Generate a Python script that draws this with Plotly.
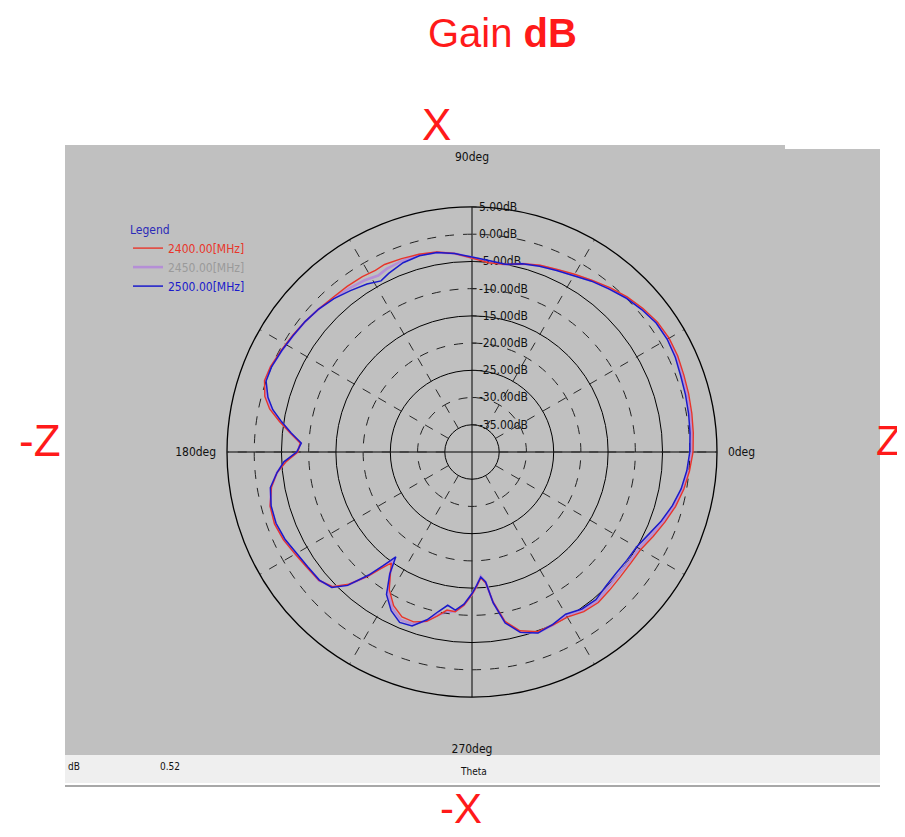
import plotly.graph_objects as go

# ---------------- data ----------------
theta = [0, 5, 10, 15, 20, 25, 30, 35, 40, 45, 50, 55, 60, 65, 70, 75, 80, 85, 90, 95,
         100, 105, 110, 115, 118, 122, 127, 132, 137, 142, 147, 152, 157, 161, 165, 168,
         171, 174, 177, 180, 183, 186, 190, 195, 200, 205, 210, 215, 220, 224, 227, 230,
         232, 234, 236, 239, 243, 247, 251, 255, 258, 261, 264, 267, 270, 272, 274, 276,
         278, 281, 285, 290, 295, 300, 305, 310, 315, 320, 325, 330, 335, 340, 345, 350,
         355, 360]

gain_2400 = [0.6, 0.8, 1.0, 1.2, 1.4, 1.7, 1.8, 1.6, 1.0, 0.3, -0.6, -1.5, -2.3, -3.0, -3.5,
             -4.2, -5.0, -5.1, -4.4, -3.4, -2.7, -2.4, -2.2, -2.0, -2.2, -2.0, -1.9, -1.8,
             -1.5, -1.1, -0.7, -0.3, 0.2, 0.3, -0.6, -2.0, -4.2, -6.4, -8.4, -8.0, -5.8,
             -4.0, -2.6, -1.6, -1.4, -1.8, -2.5, -3.0, -3.3, -4.4, -6.8, -10.2, -12.8,
             -14.8, -13.2, -10.5, -8.3, -7.1, -7.0, -7.8, -9.2, -10.6, -10.5, -11.8, -13.8,
             -15.3, -16.8, -15.8, -12.2, -8.3, -6.0, -4.9, -4.9, -5.0, -4.2, -3.9, -4.2,
             -4.4, -4.4, -4.2, -3.3, -2.3, -1.3, -0.5, 0.1, 0.6]

gain_2450 = [0.3, 0.5, 0.7, 0.9, 1.1, 1.5, 1.6, 1.4, 0.8, 0.1, -0.8, -1.6, -2.5, -3.1, -3.6,
             -4.2, -5.0, -4.9, -4.3, -3.4, -2.8, -2.5, -2.6, -2.9, -3.3, -2.8, -2.4, -2.0,
             -1.5, -1.1, -0.8, -0.4, 0.1, 0.2, -0.9, -2.3, -4.4, -6.5, -8.5, -7.9, -5.6,
             -4.0, -2.5, -1.7, -1.5, -1.9, -2.6, -3.1, -3.3, -4.3, -6.6, -10.3, -13.2,
             -15.6, -13.1, -10.0, -7.8, -6.5, -6.6, -7.9, -9.4, -10.2, -10.6, -11.9, -13.9,
             -15.4, -17.1, -15.9, -12.1, -8.1, -5.8, -4.7, -4.9, -5.3, -4.5, -4.2, -4.7,
             -4.9, -4.8, -4.6, -3.7, -2.6, -1.6, -0.7, -0.1, 0.3]

gain_2500 = [0.0, 0.2, 0.4, 0.6, 0.8, 1.2, 1.4, 1.3, 0.7, 0.0, -0.9, -1.7, -2.6, -3.2, -3.7,
             -4.2, -5.0, -4.7, -4.2, -3.4, -2.8, -2.7, -3.0, -3.8, -4.4, -3.6, -2.9, -2.1,
             -1.5, -1.1, -0.8, -0.4, 0.0, 0.0, -1.2, -2.6, -4.6, -6.6, -8.6, -7.8, -5.4,
             -4.0, -2.4, -1.8, -1.7, -2.1, -2.8, -3.2, -3.4, -4.2, -6.5, -10.5, -13.5,
             -16.2, -13.0, -9.5, -7.3, -6.0, -6.2, -8.1, -10.0, -11.5, -10.8, -12.0, -14.0,
             -15.5, -17.0, -16.0, -12.0, -8.0, -5.7, -4.6, -5.0, -5.6, -4.8, -4.6, -5.2,
             -5.4, -5.3, -5.1, -4.2, -3.0, -1.9, -1.0, -0.4, 0.0]

freq_labels = ["2400.00[MHz]", "2450.00[MHz]", "2500.00[MHz]"]
solid_rings = [5, -5, -15, -25, -35]
dashed_rings = [0, -10, -20, -30]
vertical_spokes = [90, 270]
vertical_spoke_labels = ["90deg", "270deg"]
horizontal_spokes = [0, 180]
horizontal_spoke_labels = ["0deg", "180deg"]
minor_spokes = [30, 60, 120, 150, 210, 240, 300, 330]
radial_min, radial_max = -40, 5
inner_ring = -35

# ---------------- style ----------------
OFF = 8                      # page body margin of the html page
W, H = 905 - OFF, 837 - OFF  # figure size
cx, cy, R = 472, 452, 245    # target centre / radius in window pixels
NARROW = "Liberation Sans Narrow, Arial Narrow, DejaVu Sans Condensed, sans-serif"
SANS = "Liberation Sans, Arial, sans-serif"
PANEL = "#c0c0c0"
line_colors = ["#e8352a", "#b58fd6", "#1a1acb"]
line_widths = [1.4, 2.6, 1.5]
label_colors = ["#e8352a", "#9a9a9a", "#1a1acb"]
trace_subplot = ["polar2", "polar", "polar2"]


def px(x):
    return (x - OFF) / W


def py(y):
    return 1 - (y - OFF) / H


def ring_text(v):
    return f"{v:.2f}dB"


dom_x = [px(cx - R), px(cx + R)]
dom_y = [py(cy + R), py(cy - R)]
# polar2 starts at the inner ring; a matching hole keeps both radial scales identical
hole2 = (inner_ring - radial_min) / (radial_max - radial_min)

fig = go.Figure()

series = [gain_2400, gain_2450, gain_2500]
draw_order = [1, 0, 2]
for i in draw_order:
    fig.add_trace(go.Scatterpolar(
        r=series[i], theta=theta, mode="lines",
        line=dict(color=line_colors[i], width=line_widths[i]),
        name=f"<span style='color:{label_colors[i]}'>{freq_labels[i]}</span>",
        legendrank=i + 1,
        subplot=trace_subplot[i],
    ))

common_radial = dict(
    angle=90, side="clockwise",
    showline=False, ticks="outside", ticklen=4, tickcolor="#222",
    tickfont=dict(family=NARROW, size=12, color="#111"),
    tickangle=90,
)

fig.update_layout(
    width=W, height=H,
    margin=dict(l=0, r=0, t=0, b=0),
    paper_bgcolor="white",
    showlegend=True,
    legend=dict(
        x=px(128), y=py(218), xanchor="left", yanchor="top",
        bgcolor="rgba(0,0,0,0)",
        title=dict(text="Legend", font=dict(family=NARROW, size=12, color="#2a2ab8")),
        font=dict(family=NARROW, size=12),
        tracegroupgap=0, itemwidth=30,
    ),
    polar=dict(
        domain=dict(x=dom_x, y=dom_y),
        bgcolor="rgba(0,0,0,0)",
        radialaxis=dict(
            range=[radial_min, radial_max],
            tickvals=solid_rings, ticktext=[ring_text(v) for v in solid_rings],
            showgrid=True, gridcolor="black", gridwidth=1.3, griddash="solid",
            **common_radial,
        ),
        angularaxis=dict(
            direction="counterclockwise", rotation=0,
            tickvals=horizontal_spokes + vertical_spokes,
            ticktext=["", ""] + vertical_spoke_labels,
            ticks="outside", ticklen=41, tickcolor="rgba(0,0,0,0)",
            tickfont=dict(family=NARROW, size=12, color="#111"),
            showgrid=True, gridcolor="black", gridwidth=1.3,
            showline=True, linecolor="black", linewidth=1.3,
        ),
    ),
    polar2=dict(
        domain=dict(x=dom_x, y=dom_y),
        bgcolor="rgba(0,0,0,0)",
        hole=hole2,
        radialaxis=dict(
            range=[inner_ring, radial_max],
            tickvals=dashed_rings, ticktext=[ring_text(v) for v in dashed_rings],
            showgrid=True, gridcolor="#222", gridwidth=1.1, griddash="dash",
            **common_radial,
        ),
        angularaxis=dict(
            direction="counterclockwise", rotation=0,
            tickvals=minor_spokes + horizontal_spokes,
            ticktext=[""] * len(minor_spokes) + horizontal_spoke_labels,
            ticks="outside", ticklen=8, tickcolor="rgba(0,0,0,0)",
            tickfont=dict(family=NARROW, size=12, color="#111"),
            showgrid=True, gridcolor="#2a2a2a", gridwidth=1.0, griddash="dash",
            showline=False,
        ),
    ),
)

# gray panel and status bar
fig.add_shape(type="rect", xref="paper", yref="paper", layer="below",
              x0=px(65), x1=px(785), y0=py(755), y1=py(145),
              fillcolor=PANEL, line=dict(width=0))
fig.add_shape(type="rect", xref="paper", yref="paper", layer="below",
              x0=px(784), x1=px(880), y0=py(755), y1=py(149),
              fillcolor=PANEL, line=dict(width=0))
fig.add_shape(type="rect", xref="paper", yref="paper", layer="below",
              x0=px(65), x1=px(880), y0=py(783), y1=py(755),
              fillcolor="#efefef", line=dict(width=0))
fig.add_shape(type="line", xref="paper", yref="paper", layer="below",
              x0=px(65), x1=px(880), y0=py(786), y1=py(786),
              line=dict(color="#a8a8a8", width=2))


def ann(text, x, y, size, color, family, xanchor="center"):
    fig.add_annotation(text=text, x=px(x), y=py(y), xref="paper", yref="paper",
                       showarrow=False, xanchor=xanchor, yanchor="middle",
                       font=dict(size=size, color=color, family=family))


ann("Gain <b>dB</b>", 502, 33, 40, "#ff1a1a", SANS)
ann("X", 436, 125, 44, "#ff1a1a", SANS)
ann("-X", 461, 808, 42, "#ff1a1a", SANS)
ann("-Z", 40, 440, 44, "#ff1a1a", SANS)
ann("Z", 889, 440, 42, "#ff1a1a", SANS)
ann("dB", 66, 766, 10, "#111", NARROW, xanchor="left")
ann("0.52", 158, 766, 10, "#111", NARROW, xanchor="left")
ann("Theta", 474, 771, 10, "#111", NARROW)

fig.write_html("out.html")
